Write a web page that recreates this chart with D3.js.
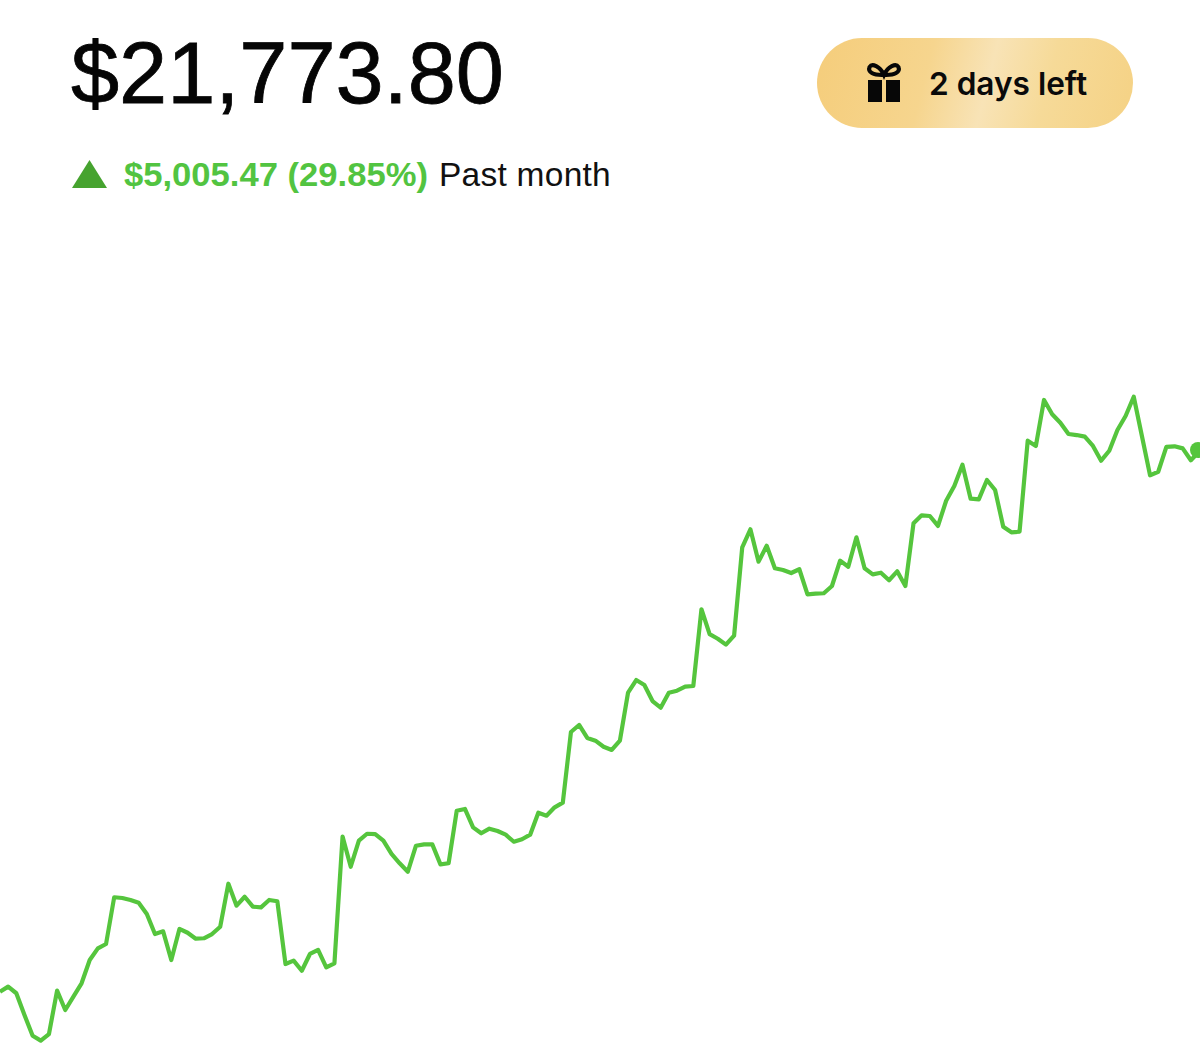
<!DOCTYPE html>
<html>
<head>
<meta charset="utf-8">
<script src="https://cdn.jsdelivr.net/npm/d3@7"></script>
<style>
  html, body { margin: 0; padding: 0; background: #fff; }
  svg { display: block; }
</style>
</head>
<body>
<svg class="chart" width="1200" height="1055"></svg>
<script>
// portfolio value through the month
const values = [
  16768, 16815, 16754, 16553, 16362, 16316, 16377, 16778, 16599, 16722,
  16846, 17061, 17169, 17209, 17641, 17634, 17616, 17591, 17486, 17301,
  17326, 17061, 17348, 17313, 17258, 17262, 17301, 17369, 17766, 17563,
  17646, 17554, 17548, 17616, 17604, 17024, 17055, 16962, 17117, 17154,
  16994, 17031, 18201, 17923, 18164, 18228, 18225, 18164, 18041, 17955,
  17877, 18117, 18130, 18130, 17945, 17955, 18441, 18457, 18287, 18232,
  18275, 18253, 18219, 18154, 18177, 18219, 18422, 18395, 18472, 18515,
  19168, 19233, 19113, 19088, 19032, 19002, 19088, 19531, 19648, 19602,
  19454, 19393, 19531, 19550, 19587, 19593, 20302, 20073, 20030, 19975,
  20058, 20875, 21041, 20742, 20889, 20681, 20665, 20637, 20672, 20440,
  20446, 20450, 20517, 20751, 20695, 20967, 20681, 20625, 20640, 20570,
  20653, 20517, 21097, 21170, 21164, 21072, 21305, 21441, 21638, 21324,
  21318, 21497, 21404, 21065, 21013, 21019, 21860, 21811, 22236, 22104,
  22026, 21922, 21912, 21897, 21811, 21675, 21767, 21959, 22088, 22266,
  21903, 21540, 21573, 21802, 21808, 21789, 21679, 21758
];
const currentValue = 21773.80;
const startValue = 16768.33;
const priceLabel = '$21,773.80';
const changeLabel = '$5,005.47 (29.85%)';
const periodLabel = 'Past month';
const badgeLabel = '2 days left';

const green = '#55c53d';
const svg = d3.select('.chart');

const x = d3.scaleLinear().domain([0, values.length - 1]).range([0, 1199]);
const y = d3.scaleLinear().domain([startValue, currentValue]).range([991.7, 450]);

const line = d3.line()
  .x((d, i) => x(i))
  .y(d => y(d));

svg.append('path')
  .datum(values)
  .attr('d', line)
  .attr('fill', 'none')
  .attr('stroke', green)
  .attr('stroke-width', 4.2)
  .attr('stroke-linejoin', 'round');

svg.append('circle')
  .attr('cx', 1198)
  .attr('cy', y(currentValue))
  .attr('r', 8)
  .attr('fill', green);

// header
svg.append('text')
  .attr('x', 71)
  .attr('y', 103)
  .attr('font-family', '"Liberation Sans", sans-serif')
  .attr('font-size', 86.5)
  .attr('fill', '#050505')
  .attr('stroke', '#050505')
  .attr('stroke-width', 0.8)
  .text(priceLabel);

svg.append('path')
  .attr('d', 'M72,188 L89.5,160 L107,188 Z')
  .attr('fill', '#46a32f');

svg.append('text')
  .attr('x', 124)
  .attr('y', 186)
  .attr('font-family', '"Liberation Sans", sans-serif')
  .attr('font-weight', 700)
  .attr('font-size', 34)
  .attr('fill', '#52c441')
  .attr('textLength', 304)
  .attr('lengthAdjust', 'spacingAndGlyphs')
  .text(changeLabel);

svg.append('text')
  .attr('x', 439)
  .attr('y', 186)
  .attr('font-family', '"Liberation Sans", sans-serif')
  .attr('font-size', 33.5)
  .attr('letter-spacing', 0.25)
  .attr('fill', '#111')
  .text(periodLabel);

// badge
const grad = svg.append('defs').append('linearGradient')
  .attr('id', 'gold')
  .attr('gradientUnits', 'userSpaceOnUse')
  .attr('x1', 817).attr('y1', 39)
  .attr('x2', 1133).attr('y2', 120);
grad.append('stop').attr('offset', '0%').attr('stop-color', '#f5cd7b');
grad.append('stop').attr('offset', '35%').attr('stop-color', '#f6d58e');
grad.append('stop').attr('offset', '54%').attr('stop-color', '#f8e3b6');
grad.append('stop').attr('offset', '72%').attr('stop-color', '#f6da98');
grad.append('stop').attr('offset', '100%').attr('stop-color', '#f5d285');

svg.append('rect')
  .attr('x', 817).attr('y', 38)
  .attr('width', 316).attr('height', 90)
  .attr('rx', 45)
  .attr('fill', 'url(#gold)');

const gift = svg.append('g').attr('fill', '#070707');
gift.append('rect').attr('x', 868).attr('y', 80).attr('width', 14).attr('height', 22);
gift.append('rect').attr('x', 886).attr('y', 80).attr('width', 14).attr('height', 22);
gift.append('path')
  .attr('d', 'M884,75 C880,66 872,63 869.5,67 C867.5,72 873,75.5 884,75 C895,75.5 900.5,72 898.5,67 C896,63 888,66 884,75 Z')
  .attr('fill', 'none')
  .attr('stroke', '#070707')
  .attr('stroke-width', 4);

svg.append('text')
  .attr('x', 929)
  .attr('y', 95)
  .attr('font-family', 'Inter, sans-serif')
  .attr('font-weight', 600)
  .attr('font-size', 31.6)
  .attr('fill', '#0a0a0a')
  .text(badgeLabel);
</script>
</body>
</html>
